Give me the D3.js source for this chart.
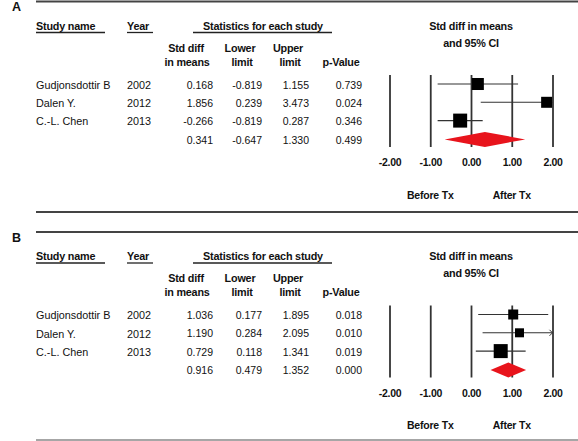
<!DOCTYPE html>
<html><head><meta charset="utf-8">
<script src="https://cdn.jsdelivr.net/npm/d3@7/dist/d3.min.js"></script>
<style>
html,body{margin:0;padding:0;background:#fff;}
svg{display:block;font-family:"Liberation Sans",Arial,sans-serif;}
</style></head>
<body>
<script>
// ---------- data ----------
const studies = ["Gudjonsdottir B", "Dalen Y.", "C.-L. Chen"];
const years = ["2002", "2012", "2013"];

const estA   = [0.168, 1.856, -0.266];
const lowerA = [-0.819, 0.239, -0.819];
const upperA = [1.155, 3.473, 0.287];
const pA     = ["0.739", "0.024", "0.346"];
const weightA = [31.3, 26.2, 42.5];
const summaryA = {est: 0.341, lower: -0.647, upper: 1.330, p: "0.499"};

const estB   = [1.036, 1.190, 0.729];
const lowerB = [0.177, 0.284, 0.118];
const upperB = [1.895, 2.095, 1.341];
const pB     = ["0.018", "0.010", "0.019"];
const weightB = [26.5, 21.5, 52.0];
const summaryB = {est: 0.916, lower: 0.479, upper: 1.352, p: "0.000"};

const axisTicks = [-2, -1, 0, 1, 2];
const panelLabels = ["A", "B"];

// ---------- drawing ----------
const W = 578, H = 441;
const svg = d3.select("body").append("svg").attr("width", W).attr("height", H);
const loc = d3.formatLocale({decimal: ".", thousands: ",", grouping: [3], currency: ["", ""], minus: "-"});
const fmt = loc.format(".3f");
const fmt2 = loc.format(".2f");
const x = d3.scaleLinear().domain([-2, 2]).range([389.5, 552.5]);

function drawPanel(label, base, est, lower, upper, p, weight, summary) {
  const g = svg.append("g").attr("transform", `translate(0,${base})`);
  const rowY = d3.scaleLinear().domain([0, 1]).range([84, 102.3]);

  g.append("text").attr("x", 12).attr("y", 7).attr("dy", "0.35em")
    .attr("font-size", 12.5).attr("font-weight", "bold").attr("fill", "#111").text(label);
  g.append("line").attr("x1", 36).attr("x2", W).attr("y1", 1.5).attr("y2", 1.5)
    .attr("stroke", "#444").attr("stroke-width", 2);

  const hdr = (t, xx, yy, anchor) => g.append("text").attr("x", xx).attr("y", yy).attr("dy", "0.35em")
    .attr("text-anchor", anchor).attr("font-size", 10.8).attr("font-weight", "bold")
    .attr("fill", "#111").attr("letter-spacing", -0.2).text(t);
  hdr("Study name", 36, 26, "start");
  hdr("Year", 127, 26, "start");
  hdr("Statistics for each study", 263, 26, "middle");
  const ul = (x1, x2) => g.append("line").attr("x1", x1).attr("x2", x2).attr("y1", 32.5).attr("y2", 32.5)
    .attr("stroke", "#222").attr("stroke-width", 1.3);
  ul(36, 105); ul(127, 153); ul(193, 332);

  hdr("Std diff", 186, 48, "middle"); hdr("in means", 187, 62, "middle");
  hdr("Lower", 240, 48, "middle"); hdr("limit", 242, 62, "middle");
  hdr("Upper", 288, 48, "middle"); hdr("limit", 290, 62, "middle");
  hdr("p-Value", 341, 62, "middle");

  hdr("Std diff in means", x(0), 26, "middle");
  hdr("and 95% CI", x(0), 43, "middle");

  const rows = studies.map((s, i) => ({name: s, year: years[i], est: est[i], lo: lower[i], hi: upper[i], p: p[i], w: weight[i]}));
  const txt = (t, xx, yy, anchor, fs) => g.append("text").attr("x", xx).attr("y", yy).attr("dy", "0.35em")
    .attr("text-anchor", anchor).attr("font-size", fs).attr("fill", "#111").text(t);
  rows.forEach((r, i) => {
    const y = rowY(i) + 1;
    txt(r.name, 36, y, "start", 10.8);
    txt(r.year, 127, y, "start", 10.8);
    txt(fmt(r.est), 213, y, "end", 10.5);
    txt(fmt(r.lo), 262, y, "end", 10.5);
    txt(fmt(r.hi), 309, y, "end", 10.5);
    txt(r.p, 362, y, "end", 10.5);
  });
  const sy = rowY(3) + 1;
  txt(fmt(summary.est), 213, sy, "end", 10.5);
  txt(fmt(summary.lower), 262, sy, "end", 10.5);
  txt(fmt(summary.upper), 309, sy, "end", 10.5);
  txt(summary.p, 362, sy, "end", 10.5);

  const axisY = 147;
  const ax = d3.axisBottom(x).tickValues(axisTicks).tickFormat(fmt2)
    .tickSizeInner(-(axisY - 75)).tickSizeOuter(0).tickPadding(12);
  const axG = g.append("g").attr("transform", `translate(0,${axisY})`).call(ax);
  axG.select(".domain").remove();
  axG.selectAll(".tick line").attr("stroke", "#333").attr("stroke-width", 1.8);
  axG.selectAll(".tick text").attr("font-size", 10.5).attr("font-weight", "bold")
    .attr("fill", "#111").attr("font-family", "'Liberation Sans',Arial,sans-serif").attr("letter-spacing", -0.3);

  const [d0, d1] = x.domain();
  rows.forEach((r, i) => {
    const y = rowY(i);
    const lo = Math.max(r.lo, d0), hi = Math.min(r.hi, d1);
    g.append("line").attr("x1", x(lo)).attr("x2", x(hi)).attr("y1", y).attr("y2", y)
      .attr("stroke", "#333").attr("stroke-width", 1.1);
    if (r.hi > d1 && label === "B") {
      g.append("path").attr("d", `M${x(d1) - 3},${y - 3}L${x(d1)},${y}L${x(d1) - 3},${y + 3}`)
        .attr("fill", "none").attr("stroke", "#333").attr("stroke-width", 1);
    }
  });
  const sz = d3.scaleSqrt().domain([0, d3.max(weight)]).range([0, 14]);
  rows.forEach((r, i) => {
    const s = sz(r.w), y = rowY(i);
    g.append("rect").attr("x", x(r.est) - s / 2).attr("y", y - s / 2)
      .attr("width", s).attr("height", s).attr("fill", "#000");
  });
  const dy = rowY(3) + 0.5;
  g.append("path")
    .attr("d", `M${x(summary.lower)},${dy}L${x(summary.est)},${dy - 7.5}L${x(summary.upper)},${dy}L${x(summary.est)},${dy + 7.5}Z`)
    .attr("fill", "#e8141c");

  const lab = (t, xx) => g.append("text").attr("x", xx).attr("y", 195).attr("dy", "0.35em")
    .attr("text-anchor", "middle").attr("font-size", 10.5).attr("font-weight", "bold")
    .attr("fill", "#111").attr("letter-spacing", -0.2).text(t);
  lab("Before Tx", x(-1));
  lab("After Tx", x(1));
}

drawPanel(panelLabels[0], 0, estA, lowerA, upperA, pA, weightA, summaryA);
drawPanel(panelLabels[1], 230.5, estB, lowerB, upperB, pB, weightB, summaryB);

svg.append("line").attr("x1", 36).attr("x2", W).attr("y1", 212).attr("y2", 212)
  .attr("stroke", "#444").attr("stroke-width", 2);
svg.append("line").attr("x1", 36).attr("x2", W).attr("y1", 440).attr("y2", 440)
  .attr("stroke", "#888").attr("stroke-width", 1.5);
</script>
</body></html>
